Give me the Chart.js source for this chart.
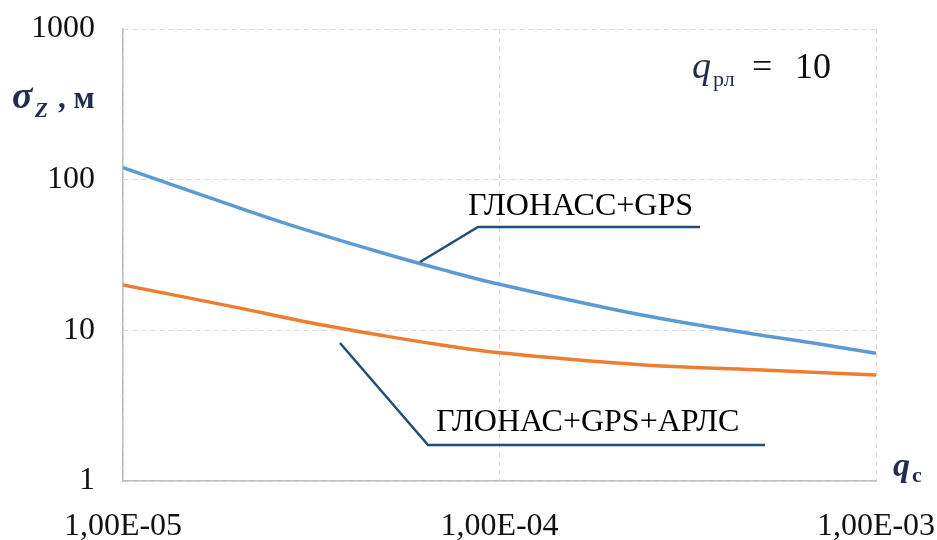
<!DOCTYPE html>
<html>
<head>
<meta charset="utf-8">
<script src="https://cdn.jsdelivr.net/npm/chart.js@4/dist/chart.umd.min.js"></script>
<style>
  body { margin: 0; background: #fff; }
  #wrap { width: 937px; height: 540px; }
</style>
</head>
<body>
<div id="wrap"><canvas id="sigmaChart" width="937" height="540"></canvas></div>
<script>
// DATA
const qValues = [1e-5, 2e-5, 3e-5, 5e-5, 7e-5, 1e-4, 2e-4, 3e-4, 5e-4, 7e-4, 1e-3];
const glonassGps = [120, 65.9, 47.1, 32.1, 25.4, 20.2, 13.8, 11.4, 9.25, 8.15, 7.05];
const glonassGpsArls = [20.0, 14.2, 11.5, 9.15, 8.0, 7.1, 6.1, 5.73, 5.45, 5.25, 5.05];
const xTicks = [1e-5, 1e-4, 1e-3];
const yTicks = [1, 10, 100, 1000];

const SERIF = '"Liberation Serif", "Times New Roman", serif';
const NAVY = "#1f4e79";

function toPoints(values) {
    return qValues.map((q, i) => ({ x: q, y: values[i] }));
}

function fmtExp(v) {
    const e = Math.round(Math.log10(v));
    const s = Math.abs(e) < 10 ? "0" + Math.abs(e) : String(Math.abs(e));
    return "1,00E" + (e < 0 ? "-" : "+") + s;
}

// no automatic room for overhanging tick labels, layout padding decides
function noPad(s) {
    s.paddingTop = 0;
    s.paddingBottom = 0;
    s.paddingLeft = 0;
    s.paddingRight = 0;
}

// ANNOTATIONS (labels, leader lines, axis names)
const annotations = {
    id: "annotations",
    afterDraw(chart) {
        const ctx = chart.ctx;
        ctx.save();

        // leader lines
        ctx.strokeStyle = NAVY;
        ctx.lineWidth = 2.5;
        ctx.beginPath();
        ctx.moveTo(420, 262);
        ctx.lineTo(478, 227);
        ctx.lineTo(700, 227);
        ctx.moveTo(340, 343);
        ctx.lineTo(428, 445);
        ctx.lineTo(765, 445);
        ctx.stroke();

        // series labels
        ctx.fillStyle = "#000";
        ctx.textBaseline = "alphabetic";
        ctx.textAlign = "left";
        ctx.font = "32px " + SERIF;
        ctx.fillText("ГЛОНАСС+GPS", 468, 215);
        ctx.fillText("ГЛОНАС+GPS+АРЛС", 436, 431);

        // y axis name
        ctx.fillStyle = "#1f2d50";
        ctx.font = "italic bold 38px " + SERIF;
        ctx.fillText("σ", 12, 108);
        ctx.font = "italic bold 21px " + SERIF;
        ctx.fillText("Z", 35, 117);
        ctx.font = "bold 31px " + SERIF;
        ctx.fillText(", м", 58, 108);

        // parameter note
        ctx.font = "italic 38px " + SERIF;
        ctx.fillText("q", 692, 78);
        ctx.font = "22px " + SERIF;
        ctx.fillText("рл", 713, 86);
        ctx.fillStyle = "#111";
        ctx.font = "36px " + SERIF;
        ctx.fillText("=", 752, 78);
        ctx.fillText("10", 795, 78);

        // x axis name
        ctx.fillStyle = "#1f2d50";
        ctx.font = "italic bold 34px " + SERIF;
        ctx.fillText("q", 893, 476);
        ctx.font = "bold 22px " + SERIF;
        ctx.fillText("c", 912, 482);

        ctx.restore();
    }
};

new Chart(document.getElementById("sigmaChart"), {
    type: "scatter",
    data: {
        datasets: [
            {
                label: "ГЛОНАСС+GPS",
                data: toPoints(glonassGps),
                showLine: true,
                borderColor: "#5b9bd5",
                borderWidth: 3.5,
                pointRadius: 0,
                tension: 0.4
            },
            {
                label: "ГЛОНАС+GPS+АРЛС",
                data: toPoints(glonassGpsArls),
                showLine: true,
                borderColor: "#ed7d31",
                borderWidth: 3.5,
                pointRadius: 0,
                tension: 0.4
            }
        ]
    },
    options: {
        responsive: false,
        animation: false,
        layout: { padding: { top: 29, right: 61, left: 0, bottom: 0 } },
        plugins: { legend: { display: false }, tooltip: { enabled: false } },
        scales: {
            x: {
                type: "logarithmic",
                min: 1e-5,
                max: 1e-3,
                afterBuildTicks: s => { s.ticks = xTicks.map(v => ({ value: v })); },
                afterFit: s => { s.height = 59; noPad(s); },
                ticks: {
                    callback: v => fmtExp(v),
                    font: { family: SERIF, size: 32 },
                    color: "#111",
                    padding: 26,
                    maxRotation: 0
                },
                grid: { color: "#d9d9d9", drawTicks: false },
                border: { display: true, color: "#bfbfbf", width: 1.5, dash: [5, 4] }
            },
            y: {
                type: "logarithmic",
                min: 1,
                max: 1000,
                afterBuildTicks: s => { s.ticks = yTicks.map(v => ({ value: v })); },
                afterFit: s => { s.width = 123; noPad(s); },
                ticks: {
                    callback: v => String(v),
                    font: { family: SERIF, size: 32 },
                    color: "#111",
                    padding: 28
                },
                grid: { color: "#d9d9d9", drawTicks: false },
                border: { display: true, color: "#bfbfbf", width: 1.5, dash: [5, 4] }
            }
        }
    },
    plugins: [annotations]
});
</script>
</body>
</html>
